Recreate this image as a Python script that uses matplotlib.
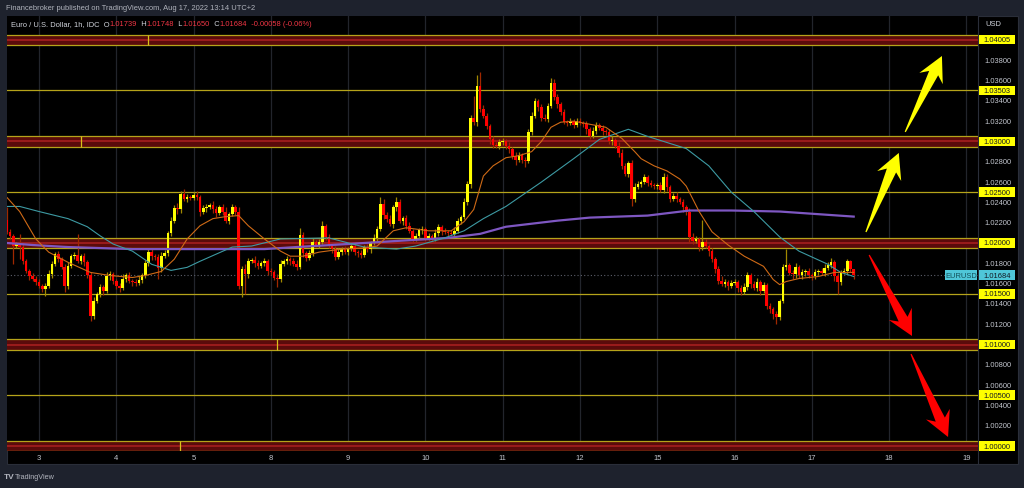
import matplotlib
matplotlib.use("Agg")
import matplotlib.pyplot as plt
import matplotlib.transforms as mtransforms
from matplotlib.patches import Rectangle, Polygon
from matplotlib.lines import Line2D
import numpy as np

plt.rcParams["font.family"] = ["Liberation Sans", "DejaVu Sans"]

W, H = 1024, 489
PIP = 0.0001  # prices below are in pips above 1.0000

# hourly EUR/USD candles, Aug 2 14:00 .. Aug 17 13:00 (UTC+2)
first_open = 223
closes_aug02 = [211, 207, 197, 199, 196, 182, 172, 167, 165, 162]
closes_aug03 = [158, 155, 158, 169, 179, 189, 184, 176, 158, 177, 187, 188, 182, 187, 181, 168, 128, 143, 150, 157, 153, 167, 169, 163]
closes_aug04 = [158, 156, 165, 168, 163, 162, 161, 164, 168, 180, 191, 187, 186, 175, 187, 190, 210, 222, 234, 233, 248, 243, 245, 244]
closes_aug05 = [247, 245, 231, 234, 235, 237, 233, 230, 235, 231, 222, 229, 235, 231, 158, 174, 169, 182, 183, 180, 177, 180, 182, 172]
closes_aug08 = [171, 166, 165, 179, 182, 184, 182, 179, 176, 208, 190, 185, 190, 201, 198, 201, 217, 206, 197, 194, 186, 191, 194, 191]
closes_aug09 = [194, 197, 191, 190, 188, 196, 194, 200, 205, 214, 238, 228, 224, 219, 235, 240, 222, 225, 217, 212, 204, 207, 213, 214]
closes_aug10 = [205, 207, 204, 210, 216, 212, 211, 210, 209, 212, 222, 226, 240, 258, 323, 319, 355, 332, 325, 315, 302, 297, 296, 299]
closes_aug11 = [300, 296, 293, 286, 282, 287, 282, 281, 309, 325, 340, 334, 323, 322, 335, 358, 344, 337, 329, 319, 318, 320, 316, 320]
closes_aug12 = [318, 317, 312, 305, 310, 316, 313, 310, 309, 300, 301, 296, 289, 276, 268, 279, 243, 255, 258, 260, 265, 259, 257, 256]
closes_aug15 = [257, 252, 265, 255, 243, 246, 243, 240, 235, 231, 206, 202, 204, 196, 201, 197, 192, 184, 174, 163, 160, 162, 158, 161]
closes_aug16 = [162, 156, 152, 157, 168, 160, 156, 162, 153, 159, 138, 135, 130, 127, 143, 176, 178, 170, 169, 176, 168, 171, 172, 168]
closes_aug17 = [167, 171, 172, 170, 175, 178, 181, 167, 162, 171, 172, 182, 173.9, 168.4]

wick_up = (
    [12, 3, 2, 2, 10, 3, 2, 2, 3, 2]
    + [3, 2, 3, 4, 3, 2, 3, 2, 3, 4, 2, 3, 21, 2, 3, 2, 3, 4, 2, 3, 2, 4, 3, 2]
    + [2, 3, 4, 2, 3, 2, 3, 4, 2, 3, 4, 3, 2, 3, 4, 3, 2, 4, 3, 5, 3, 5, 3, 2]
    + [3, 4, 2, 3, 3, 2, 4, 3, 2, 3, 4, 2, 3, 2, 4, 3, 5, 3, 2, 4, 3, 2, 3, 2]
    + [3, 2, 3, 4, 2, 3, 2, 3, 4, 7, 3, 2, 3, 4, 2, 3, 5, 2, 3, 2, 3, 4, 2, 3]
    + [2, 3, 4, 2, 3, 2, 3, 2, 4, 3, 7, 5, 3, 4, 2, 5, 3, 2, 3, 4, 2, 3, 2, 3]
    + [2, 3, 2, 4, 3, 2, 3, 2, 3, 4, 3, 2, 4, 3, 3, 22, 10, 13, 4, 3, 2, 3, 2, 3]
    + [3, 2, 3, 2, 4, 3, 2, 3, 3, 4, 3, 2, 3, 4, 3, 5, 4, 3, 2, 3, 2, 3, 2, 3]
    + [3, 2, 3, 2, 4, 3, 2, 3, 2, 3, 4, 2, 3, 4, 3, 2, 3, 4, 3, 2, 3, 2, 3, 2]
    + [2, 3, 4, 3, 2, 3, 4, 2, 3, 2, 3, 4, 3, 2, 22, 3, 2, 3, 2, 3, 4, 3, 2, 3]
    + [3, 2, 3, 4, 3, 2, 3, 4, 2, 3, 2, 3, 2, 3, 2, 3, 16, 2, 3, 4, 2, 3, 2, 3]
    + [2, 3, 2, 3, 4, 3, 4, 2, 3, 2, 3, 2, 1, 0.9]
)
wick_dn = (
    [2, 3, 18, 2, 12, 3, 2, 3, 2, 3]
    + [2, 3, 7, 2, 3, 2, 3, 2, 6, 3, 2, 3, 2, 3, 4, 2, 5, 3, 2, 3, 4, 2, 3, 3]
    + [3, 4, 2, 3, 2, 4, 3, 2, 3, 2, 3, 4, 3, 10, 4, 2, 3, 3, 2, 4, 3, 2, 3, 2]
    + [2, 3, 4, 2, 3, 2, 3, 4, 2, 3, 2, 3, 2, 3, 3, 11, 19, 3, 2, 4, 3, 2, 3, 4]
    + [3, 2, 8, 3, 2, 3, 4, 2, 3, 2, 4, 3, 2, 3, 2, 3, 2, 3, 2, 4, 3, 2, 3, 2]
    + [3, 2, 3, 4, 3, 2, 3, 4, 2, 3, 2, 4, 3, 2, 4, 3, 2, 4, 3, 2, 3, 2, 3, 4]
    + [3, 2, 3, 2, 3, 4, 2, 3, 2, 3, 2, 3, 2, 3, 4, 3, 4, 3, 2, 3, 4, 3, 2, 3]
    + [2, 3, 4, 3, 5, 2, 3, 6, 2, 3, 2, 4, 3, 2, 3, 2, 3, 4, 3, 2, 3, 2, 3, 2]
    + [2, 3, 5, 3, 2, 3, 2, 4, 3, 2, 3, 2, 4, 3, 2, 3, 7, 3, 2, 3, 2, 3, 2, 3]
    + [3, 2, 3, 4, 3, 2, 3, 2, 4, 3, 5, 3, 2, 4, 3, 2, 5, 3, 4, 3, 2, 3, 4, 2]
    + [2, 4, 3, 2, 3, 4, 2, 3, 4, 2, 3, 4, 5, 7, 3, 2, 3, 2, 4, 3, 2, 3, 4, 2]
    + [3, 2, 3, 2, 3, 2, 3, 4, 12, 3, 2, 3, 2, 3.4]
)

day_starts = [0, 24, 48, 72, 96, 120, 144, 168, 192, 216, 240, 264, 288]
day_labels = ["3", "4", "5", "8", "9", "10", "11", "12", "15", "16", "17", "18", "19"]

# moving averages (bar index, pips)
fast_idx = [-10, -6, -1, 3, 9, 16, 22, 29, 33, 38, 42, 46, 50, 54, 58, 62, 65, 70, 75, 78, 82, 87, 94, 101, 105,
            110, 114, 121, 128, 132, 135, 137, 138, 141, 145, 149, 153, 156, 159, 162, 166, 171, 176, 181, 185,
            187, 191, 195, 199, 201, 205, 209, 214, 219, 225, 228, 230, 232, 236, 242, 247, 253]
fast_val = [245, 231, 204, 191, 181, 171, 168, 166, 168, 172, 184, 204, 217, 224, 226, 227, 217, 204, 192, 187, 187,
            191, 194, 195, 197, 212, 215, 212, 212, 221, 233, 255, 266, 276, 284, 286, 290, 300, 314, 319, 320, 317,
            314, 303, 290, 283, 276, 271, 263, 256, 231, 211, 198, 187, 177, 164, 159, 162, 165, 167, 171, 171]
slow_idx = [-10, -6, 0, 9, 15, 19, 23, 29, 35, 41, 46, 50, 55, 60, 66, 75, 90, 101, 111, 117, 126, 132, 138, 145,
            156, 166, 174, 183, 189, 201, 208, 215, 222, 230, 236, 245, 249, 253]
slow_val = [236, 236, 231, 224, 216, 207, 199, 192, 179, 173, 176, 182, 189, 196, 197, 204, 205, 196, 194, 197, 205,
            212, 224, 236, 260, 283, 302, 312, 305, 293, 276, 250, 231, 206, 192, 179, 171, 167]
long_idx = [-10, -2, 9, 29, 50, 70, 80, 96, 111, 127, 137, 145, 161, 171, 189, 202, 215, 230, 253]
long_val = [200, 198, 196, 194, 194, 194, 196, 199, 202, 205, 209, 216, 222, 225, 227, 232, 232, 231, 226]

band_levels = [1.040, 1.030, 1.020, 1.010, 1.000]
band_tags = ["1.04005", "1.03000", "1.02000", "1.01000", "1.00000"]
band_tag_prices = [1.04005, 1.030, 1.020, 1.010, 1.000]
band_anchor_idx = [33.9, 13, None, 74, 43.8]
line_levels = [1.03503, 1.025, 1.015, 1.005]
line_tags = ["1.03503", "1.02500", "1.01500", "1.00500"]
tick_prices = [1.002, 1.004, 1.006, 1.008, 1.012, 1.014, 1.016, 1.018,
               1.022, 1.024, 1.026, 1.028, 1.032, 1.034, 1.036, 1.038]
last_price = 1.01684

# hand-drawn arrows: (tail idx, tail pips, tip idx, tip pips)
arrows = [(269.0, 309.4, 280.4, 384.2, "#ffff00"),
          (256.8, 210.8, 267.0, 288.7, "#ffff00"),
          (257.8, 188.2, 271.1, 108.4, "#ff0000"),
          (270.8, 90.6, 282.3, 8.9, "#ff0000")]

closes = (closes_aug02 + closes_aug03 + closes_aug04 + closes_aug05 + closes_aug08 + closes_aug09
          + closes_aug10 + closes_aug11 + closes_aug12 + closes_aug15 + closes_aug16 + closes_aug17)
assert len(closes) == len(wick_up) == len(wick_dn), (len(closes), len(wick_up), len(wick_dn))


def fx(px):
    return px / W


def fy(py):
    return 1 - py / H


def price(p):
    return 1 + np.asarray(p, dtype=float) * PIP


fig = plt.figure(figsize=(W / 100, H / 100), dpi=100)
fig.patch.set_facecolor("#1e222d")
fig.add_artist(Rectangle((fx(7), fy(465)), fx(1018) - fx(7), fy(17) - fy(465), transform=fig.transFigure,
                         facecolor="black", edgecolor="#2a2e39", lw=0.8, zorder=0))

ax = fig.add_axes([fx(7), fy(452), fx(978) - fx(7), fy(17) - fy(452)])
ax.set_facecolor("black")
ax.set_xlim(-9.94, 291.6)
ax.set_ylim(0.99951, 1.04236)
for s in ax.spines.values():
    s.set_visible(False)

for d in day_starts:
    ax.axvline(d, color="#22252c", lw=0.9, zorder=0.5)

# support / resistance zones
for lvl, anc in zip(band_levels, band_anchor_idx):
    ax.axhspan(lvl - 0.0005, lvl + 0.0005, color="#5a0b0b", lw=0, zorder=1)
    ax.axhline(lvl, color="#9a1c1c", lw=1.4, zorder=1.1)
    ax.axhline(lvl - 0.0005, color="#b5a31a", lw=0.9, zorder=1.2)
    ax.axhline(lvl + 0.0005, color="#b5a31a", lw=0.9, zorder=1.2)
    if anc is not None:
        ax.vlines(anc, lvl - 0.0005, lvl + 0.0005, color="#d8c21a", lw=0.9, zorder=1.3)
for lvl in line_levels:
    ax.axhline(lvl, color="#b5a31a", lw=0.9, zorder=1.2)

ax.axhline(last_price, color="#5d606b", lw=0.8, ls=(0, (1, 2)), zorder=1.5)

# candles
idx = np.arange(len(closes)) - 10
c = np.array(closes, dtype=float)
o = np.concatenate([[first_open], c[:-1]])
hi = np.maximum(o, c) + np.array(wick_up)
lo = np.minimum(o, c) - np.array(wick_dn)
rising = c >= o
body_col = np.where(rising, "#ffff00", "#ff0000")
wick_col = np.where(rising, "#a08800", "#a02800")
ax.vlines(idx, price(lo), price(hi), colors=wick_col, lw=0.9, zorder=3)
bottom = np.minimum(o, c)
height = np.maximum(np.abs(c - o), 1.0)
ax.bar(idx, height * PIP, bottom=price(bottom), width=0.8, color=body_col, lw=0, zorder=4)

ax.plot(long_idx, price(long_val), color="#7e57c2", lw=1.6, zorder=5)
ax.plot(slow_idx, price(slow_val), color="#3d9aa3", lw=0.8, zorder=5)
ax.plot(fast_idx, price(fast_val), color="#cf6a16", lw=0.8, zorder=5)


def tapered_arrow(x0, y0, x1, y1, color):
    p0 = ax.transData.transform((x0, price(y0)))
    p1 = ax.transData.transform((x1, price(y1)))
    u = (p1 - p0) / np.hypot(*(p1 - p0))
    n = np.array([-u[1], u[0]])
    base = p1 - u * 19
    barb = p1 - u * 25
    pts = [p0 + n * 0.6, base + n * 5, barb + n * 13, p1, barb - n * 13, base - n * 5, p0 - n * 0.6]
    ax.add_patch(Polygon(ax.transData.inverted().transform(pts), closed=True, facecolor=color,
                         edgecolor="none", zorder=6, clip_on=False))


for a in arrows:
    tapered_arrow(*a)

ax.set_yticks([])
ax.set_xticks(day_starts)
ax.set_xticklabels(day_labels)
ax.tick_params(axis="x", length=0, pad=2.0, labelsize=5.5, labelcolor="#c3c6ce")

# price scale on the right
trans = mtransforms.blended_transform_factory(fig.transFigure, ax.transData)
fig.add_artist(Line2D([fx(978), fx(978)], [fy(17), fy(465)], transform=fig.transFigure, color="#2a2e39", lw=0.8))
for p in tick_prices:
    fig.text(fx(998), p, f"{p:.5f}", transform=trans, ha="center", va="center", fontsize=5.4, color="#c3c6ce")


def price_tag(x0, x1, p, text, face, tcolor):
    fig.add_artist(Rectangle((fx(x0), p - 0.00048), fx(x1) - fx(x0), 0.00096, transform=trans,
                             facecolor=face, edgecolor="none", zorder=5))
    fig.text(fx((x0 + x1) / 2), p, text, transform=trans, ha="center", va="center",
             fontsize=5.4, color=tcolor, zorder=6)


for p, tag in zip(band_tag_prices, band_tags):
    price_tag(979, 1015, p, tag, "#ffff00", "#131722")
for lvl, tag in zip(line_levels, line_tags):
    price_tag(979, 1015, lvl, tag, "#ffff00", "#131722")
price_tag(979, 1015, last_price, f"{last_price:.5f}", "#4fc6d8", "#131722")
price_tag(945, 977, last_price, "EURUSD", "#4fc6d8", "#12505a")
fig.text(fx(985), fy(25), "USD", fontsize=5.4, color="#d1d4dc", va="center")

# header texts
fig.text(fx(6), fy(9), "Financebroker published on TradingView.com, Aug 17, 2022 13:14 UTC+2",
         fontsize=5.4, color="#b2b5be", va="center")
light, red = "#d1d4dc", "#f23645"
pieces = [("Euro / U.S. Dollar, 1h, IDC  O", light), ("1.01739", red), ("  H", light), ("1.01748", red),
          ("  L", light), ("1.01650", red), ("  C", light), ("1.01684", red), ("  -0.00058 (-0.06%)", red)]
prev = fig.text(fx(11), fy(25), pieces[0][0], fontsize=5.4, color=pieces[0][1], va="center")
for txt, col in pieces[1:]:
    prev = ax.annotate(txt, xy=(1, 0), xycoords=prev, va="bottom", ha="left",
                       fontsize=5.4, color=col, annotation_clip=False)

fig.text(fx(4), fy(478), "TV", fontsize=6, fontweight="bold", color="#b2b5be", va="center")
fig.text(fx(15), fy(478), "TradingView", fontsize=5.2, color="#b2b5be", va="center")

fig.savefig("out.png", dpi=100, facecolor=fig.get_facecolor())
